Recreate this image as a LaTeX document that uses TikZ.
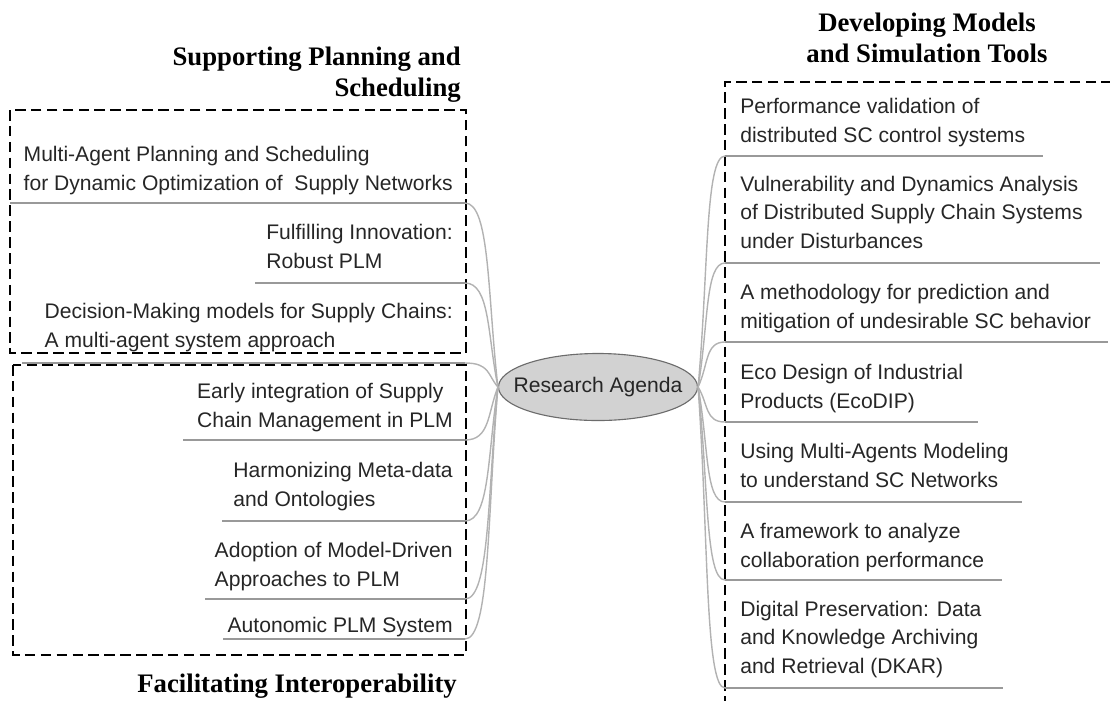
\documentclass[tikz,border=0pt]{standalone}
\usepackage{fontspec}
\setmainfont{Liberation Serif}
\newfontfamily\mapfont{Liberation Sans}
\usetikzlibrary{shapes.geometric,calc}

\tikzset{
	topic/.style={font=\mapfont\fontsize{15}{20}\selectfont, text=black!85, inner sep=0pt, align=left},
	heading/.style={font=\bfseries\fontsize{19}{21.5}\selectfont, inner sep=0pt},
	uline/.style={draw=gray!80, line width=1pt},
	branch/.style={draw=gray!60, line width=1pt},
	groupbox/.style={draw=black, line width=2.1pt, dash pattern=on 7.5pt off 3.8pt},
	hub/.style={ellipse, draw=gray!85!black, fill=gray!35, line width=0.8pt, minimum width=4.975cm, minimum height=1.675cm, inner sep=0pt, font=\mapfont\fontsize{15}{20}\selectfont, text=black!85}
}

\begin{document}
\begin{tikzpicture}[x=0.025cm, y=-0.025cm]
			\useasboundingbox (0,0) rectangle (1110,700);
			% group boxes
			\draw[groupbox] (10,110) rectangle (466,353);
			\draw[groupbox] (13,365) rectangle (466,655);
			\draw[groupbox] (1112,82) -- (725,82) -- (725,702);
			% headings (base = last line)
			\node[heading, align=right, anchor=base east] (hplan) at (461,96) {Supporting Planning and\\Scheduling};
			\node[heading, anchor=base east] (hinter) at (457,692) {Facilitating Interoperability};
			\node[heading, align=center, anchor=base] (hmodel) at (927,62) {Developing Models\\and Simulation Tools};
			% centre
			\node[hub] (agenda) at (598,387) {\makebox[0pt]{Research Agenda}};
			% left topics
			\node[topic, anchor=base east] (ps1) at (453,190) {Multi-Agent Planning and Scheduling\\for Dynamic Optimization of \ Supply Networks};
			\node[topic, anchor=base east] (ps2) at (453,268) {Fulfilling Innovation:\\Robust PLM};
			\node[topic, anchor=base east] (ps3) at (453,347) {Decision-Making models for Supply Chains:\\A multi-agent system approach};
			\node[topic, anchor=base east] (fi1) at (453,427) {Early integration of Supply\\Chain Management in PLM};
			\node[topic, anchor=base east] (fi2) at (453,506) {Harmonizing Meta-data\\and Ontologies};
			\node[topic, anchor=base east] (fi3) at (453,586) {Adoption of Model-Driven\\Approaches to PLM};
			\node[topic, anchor=base east] (fi4) at (453,632) {Autonomic PLM System};
			% right topics
			\node[topic, anchor=base west] (dm1) at (740,142) {Performance validation of\\distributed SC control systems};
			\node[topic, anchor=base west] (dm2) at (740,248) {Vulnerability and Dynamics Analysis\\of Distributed Supply Chain Systems\\under Disturbances};
			\node[topic, anchor=base west] (dm3) at (740,328) {A methodology for prediction and\\mitigation of undesirable SC behavior};
			\node[topic, anchor=base west] (dm4) at (740,408) {Eco Design of Industrial\\Products (EcoDIP)};
			\node[topic, anchor=base west] (dm5) at (740,487) {Using Multi-Agents Modeling\\to understand SC Networks};
			\node[topic, anchor=base west] (dm6) at (740,567) {A framework to analyze\\collaboration performance};
			\node[topic, anchor=base west] (dm7) at (740,673) {Digital Preservation: Data\\and Knowledge Archiving\\and Retrieval (DKAR)};
			% underlines, left ends at the box
			\coordinate (ps1e) at (465,203); \draw[uline] (10,203) -- (ps1e);
			\coordinate (ps2e) at (465,283); \draw[uline] (255,283) -- (ps2e);
			\coordinate (ps3e) at (465,363); \draw[uline] (22,363) -- (ps3e);
			\coordinate (fi1e) at (465,440); \draw[uline] (183,440) -- (fi1e);
			\coordinate (fi2e) at (465,521); \draw[uline] (222,521) -- (fi2e);
			\coordinate (fi3e) at (465,599); \draw[uline] (205,599) -- (fi3e);
			\coordinate (fi4e) at (465,639); \draw[uline] (223,639) -- (fi4e);
			% underlines, right
			\coordinate (dm1e) at (725,156); \draw[uline] (dm1e) -- (1043,156);
			\coordinate (dm2e) at (725,263); \draw[uline] (dm2e) -- (1100,263);
			\coordinate (dm3e) at (725,342); \draw[uline] (dm3e) -- (1108,342);
			\coordinate (dm4e) at (725,422); \draw[uline] (dm4e) -- (978,422);
			\coordinate (dm5e) at (725,502); \draw[uline] (dm5e) -- (1022,502);
			\coordinate (dm6e) at (725,580); \draw[uline] (dm6e) -- (1002,580);
			\coordinate (dm7e) at (725,688); \draw[uline] (dm7e) -- (1003,688);
			% branches
			\foreach \t in {ps1e,ps2e,ps3e,fi1e,fi2e,fi3e,fi4e}
				\draw[branch] (agenda.west) .. controls ($(agenda.west)!0.5!(\t)+(6,0)$) and +(25,0) .. (\t);
			\foreach \t in {dm1e,dm2e,dm3e,dm4e,dm5e,dm6e,dm7e}
				\draw[branch] (agenda.east) .. controls ($(agenda.east)!0.5!(\t)+(-3,0)$) and +(-20,0) .. (\t);
		\end{tikzpicture}
\end{document}
